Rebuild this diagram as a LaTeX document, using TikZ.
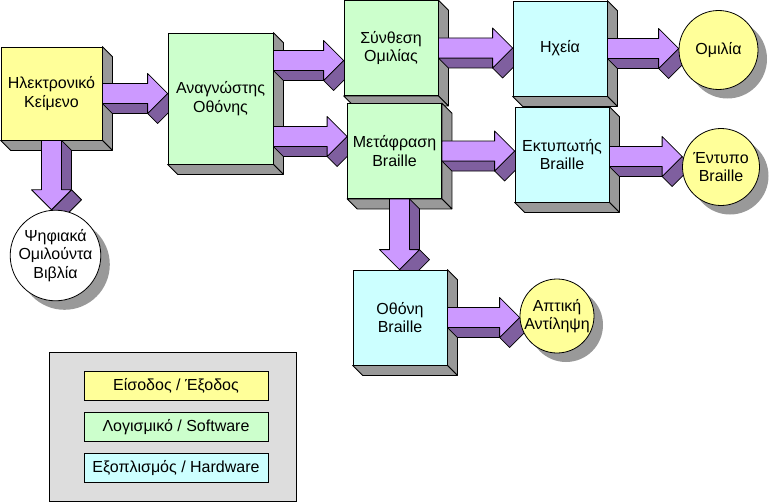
\documentclass[tikz,border=0pt]{standalone}
\usepackage{fontspec}
\setmainfont{Liberation Sans}
\usetikzlibrary{calc,shadows}
\definecolor{iofill}{HTML}{FFFF99}
\definecolor{swfill}{HTML}{CCFFCC}
\definecolor{hwfill}{HTML}{CCFFFF}
\definecolor{arrowfront}{HTML}{CC99FF}
\definecolor{arrowside}{HTML}{7F5F9F}
\definecolor{sidegray}{HTML}{999999}
\definecolor{legendfill}{HTML}{DDDDDD}
\pgfdeclarelayer{sides}
\pgfdeclarelayer{arrows}
\pgfsetlayers{sides,arrows,main}

\tikzset{
  txt/.style={font=\fontsize{16}{18.5}\selectfont},
  blk/.style={txt, draw, line width=0.8pt, align=center, minimum width=94pt, minimum height=95pt},
  io/.style={blk, fill=iofill},
  sw/.style={blk, fill=swfill},
  hw/.style={blk, fill=hwfill},
  circ/.style={txt, circle, draw, line width=0.8pt, align=center, inner sep=0pt,
    drop shadow={shadow xshift=9pt, shadow yshift=-9pt, fill=sidegray, opacity=1}},
  sidefill/.style={draw, line width=0.8pt, fill=sidegray, line join=round},
  afront/.style={draw, line width=0.8pt, fill=arrowfront, line join=round},
  aside/.style={draw, line width=0.8pt, fill=arrowside, line join=round},
  keybox/.style={txt, draw, line width=0.6pt, minimum width=184pt, minimum height=29pt}
}

\newcommand\boxsides[1]{%
  \filldraw[sidefill] (#1.north east) -- ($(#1.north east)+(10,10)$) -- ($(#1.south east)+(10,10)$) -- (#1.south east) -- cycle;
  \filldraw[sidefill] (#1.south west) -- ($(#1.south west)+(10,10)$) -- ($(#1.south east)+(10,10)$) -- (#1.south east) -- cycle;}

\newcommand\rarrow[3][0pt]{%
  \coordinate (s) at ([yshift=#1]#2.east);
  \coordinate (t) at (s -| #3.west);
  \coordinate (h) at ($(t)+(-20,0)$);
  \filldraw[aside] ($(s)+(0,10)$) -- ($(h)+(0,10)$) -- ($(h)+(10,20)$) -- ($(s)+(10,20)$) -- cycle;
  \filldraw[aside] ($(h)+(0,20)$) -- (t) -- ($(t)+(10,10)$) -- ($(h)+(10,30)$) -- cycle;
  \filldraw[afront] ($(s)+(0,-10)$) -- ($(h)+(0,-10)$) -- ($(h)+(0,-20)$) -- (t) -- ($(h)+(0,20)$) -- ($(h)+(0,10)$) -- ($(s)+(0,10)$) -- cycle;}

\newcommand\darrow[3][0pt]{%
  \coordinate (s) at ([xshift=#1]#2.south);
  \coordinate (t) at (s |- #3.north);
  \coordinate (h) at ($(t)+(0,-20)$);
  \filldraw[aside] ($(s)+(10,0)$) -- ($(h)+(10,0)$) -- ($(h)+(20,10)$) -- ($(s)+(20,10)$) -- cycle;
  \filldraw[aside] ($(h)+(20,0)$) -- (t) -- ($(t)+(10,10)$) -- ($(h)+(30,10)$) -- cycle;
  \filldraw[afront] ($(s)+(-10,0)$) -- ($(h)+(-10,0)$) -- ($(h)+(-20,0)$) -- (t) -- ($(h)+(20,0)$) -- ($(h)+(10,0)$) -- ($(s)+(10,0)$) -- cycle;}

\begin{document}
\begin{tikzpicture}[x=1pt, y=-1pt]
 \useasboundingbox (0,0) rectangle (774,503);

 \node[io, minimum width=101pt, minimum height=93pt] (etext) at (51.5,93.5) {Ηλεκτρονικό\\Κείμενο};
 \node[sw, minimum width=105pt, minimum height=131pt] (reader) at (220.5,98.5) {Αναγνώστης\\Οθόνης};
 \node[sw] (synth) at (391,48) {Σύνθεση\\Ομιλίας};
 \node[sw] (transl) at (394.5,151) {Μετάφραση\\Braille};
 \node[hw] (speakers) at (560,48.5) {Ηχεία};
 \node[hw] (printer) at (562,154.5) {Εκτυπωτής\\Braille};
 \node[hw] (bdisplay) at (400,317.5) {Οθόνη\\Braille};

 \node[circ, fill=iofill, minimum size=79pt] (speech) at (718.5,50) {Ομιλία};
 \node[circ, fill=iofill, minimum size=77pt] (printed) at (721,167) {Έντυπο\\Braille};
 \node[circ, fill=iofill, minimum size=74pt] (tactile) at (557,316) {Απτική\\Αντίληψη};
 \node[circ, fill=white, minimum size=85pt] (dtb) at (55.5,255.5) {Ψηφιακά\\Ομιλούντα\\Βιβλία};

 \begin{pgfonlayer}{sides}
  \foreach \b in {etext,reader,synth,transl,speakers,printer,bdisplay}
   {\boxsides{\b}}
 \end{pgfonlayer}

 \begin{pgfonlayer}{arrows}
  \rarrow{etext}{reader}
  \rarrow[38pt]{reader}{synth}
  \rarrow[-38pt]{reader}{transl}
  \rarrow{synth}{speakers}
  \rarrow{transl}{printer}
  \rarrow{speakers}{speech}
  \rarrow[-2pt]{printer}{printed}
  \rarrow{bdisplay}{tactile}
  \darrow{etext}{dtb}
  \darrow[5pt]{transl}{bdisplay}
 \end{pgfonlayer}

 \node[draw, line width=0.8pt, fill=legendfill, minimum width=247pt, minimum height=149pt] (legend) at (172.5,426.5) {};
 \node[keybox, fill=iofill] (lio) at (176,385.5) {Είσοδος / Έξοδος};
 \node[keybox, fill=swfill] (lsw) at (176,427) {Λογισμικό / Software};
 \node[keybox, fill=hwfill] (lhw) at (176,468) {Εξοπλισμός / Hardware};
\end{tikzpicture}
\end{document}
